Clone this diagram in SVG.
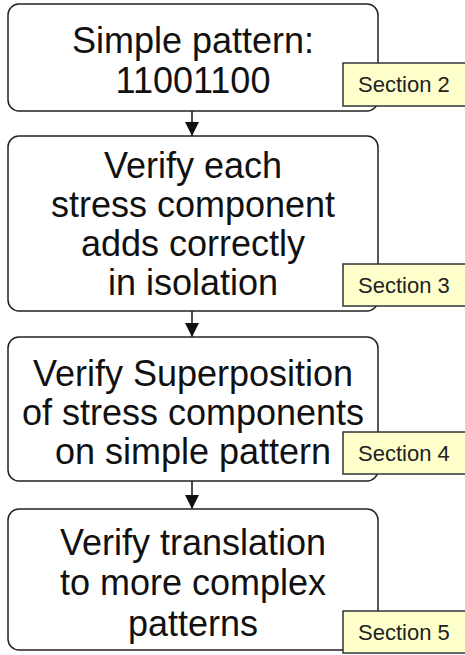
<svg xmlns="http://www.w3.org/2000/svg" width="465" height="655" viewBox="0 0 465 655">
<style>
.box{fill:#fff;stroke:#222;stroke-width:1.5}
.t{font-family:"Liberation Sans",Arial,sans-serif;font-size:36px;fill:#111;text-anchor:middle}
.lab{fill:#ffffcc;stroke:#333;stroke-width:1.5}
.lt{font-family:"Liberation Sans",Arial,sans-serif;font-size:22px;fill:#222}
.c{stroke:#111;stroke-width:1.5;fill:none}
</style>
<defs>
<marker id="ah" markerWidth="16" markerHeight="16" refX="14" refY="7" orient="auto" markerUnits="userSpaceOnUse">
<path d="M0,0 L14,7 L0,14 z" fill="#111"/>
</marker>
</defs>
<g id="connectors">
<line class="c" x1="192" y1="111" x2="192" y2="136" marker-end="url(#ah)"/>
<line class="c" x1="192" y1="311" x2="192" y2="337" marker-end="url(#ah)"/>
<line class="c" x1="192" y1="481" x2="192" y2="509" marker-end="url(#ah)"/>
</g>
<g id="n1">
<rect class="box" x="8" y="4" width="370" height="107" rx="11"/>
<text class="t" x="193" y="53">Simple pattern:</text>
<text class="t" x="193" y="93">11001100</text>
</g>
<g id="s2">
<rect class="lab" x="343" y="63" width="130" height="43"/>
<text class="lt" x="358" y="92">Section 2</text>
</g>
<g id="n2">
<rect class="box" x="8" y="136" width="370" height="175" rx="11"/>
<text class="t" x="193" y="178">Verify each</text>
<text class="t" x="193" y="217">stress component</text>
<text class="t" x="193" y="256">adds correctly</text>
<text class="t" x="193" y="295">in isolation</text>
</g>
<g id="s3">
<rect class="lab" x="343" y="264" width="130" height="42"/>
<text class="lt" x="358" y="293">Section 3</text>
</g>
<g id="n3">
<rect class="box" x="8" y="337" width="370" height="144" rx="11"/>
<text class="t" x="193" y="386">Verify Superposition</text>
<text class="t" x="193" y="425">of stress components</text>
<text class="t" x="193" y="464">on simple pattern</text>
</g>
<g id="s4">
<rect class="lab" x="343" y="432" width="130" height="42"/>
<text class="lt" x="358" y="461">Section 4</text>
</g>
<g id="n4">
<rect class="box" x="8" y="509" width="370" height="141" rx="11"/>
<text class="t" x="193" y="555">Verify translation</text>
<text class="t" x="193" y="595">to more complex</text>
<text class="t" x="193" y="636">patterns</text>
</g>
<g id="s5">
<rect class="lab" x="343" y="611" width="130" height="42"/>
<text class="lt" x="358" y="640">Section 5</text>
</g>
</svg>
